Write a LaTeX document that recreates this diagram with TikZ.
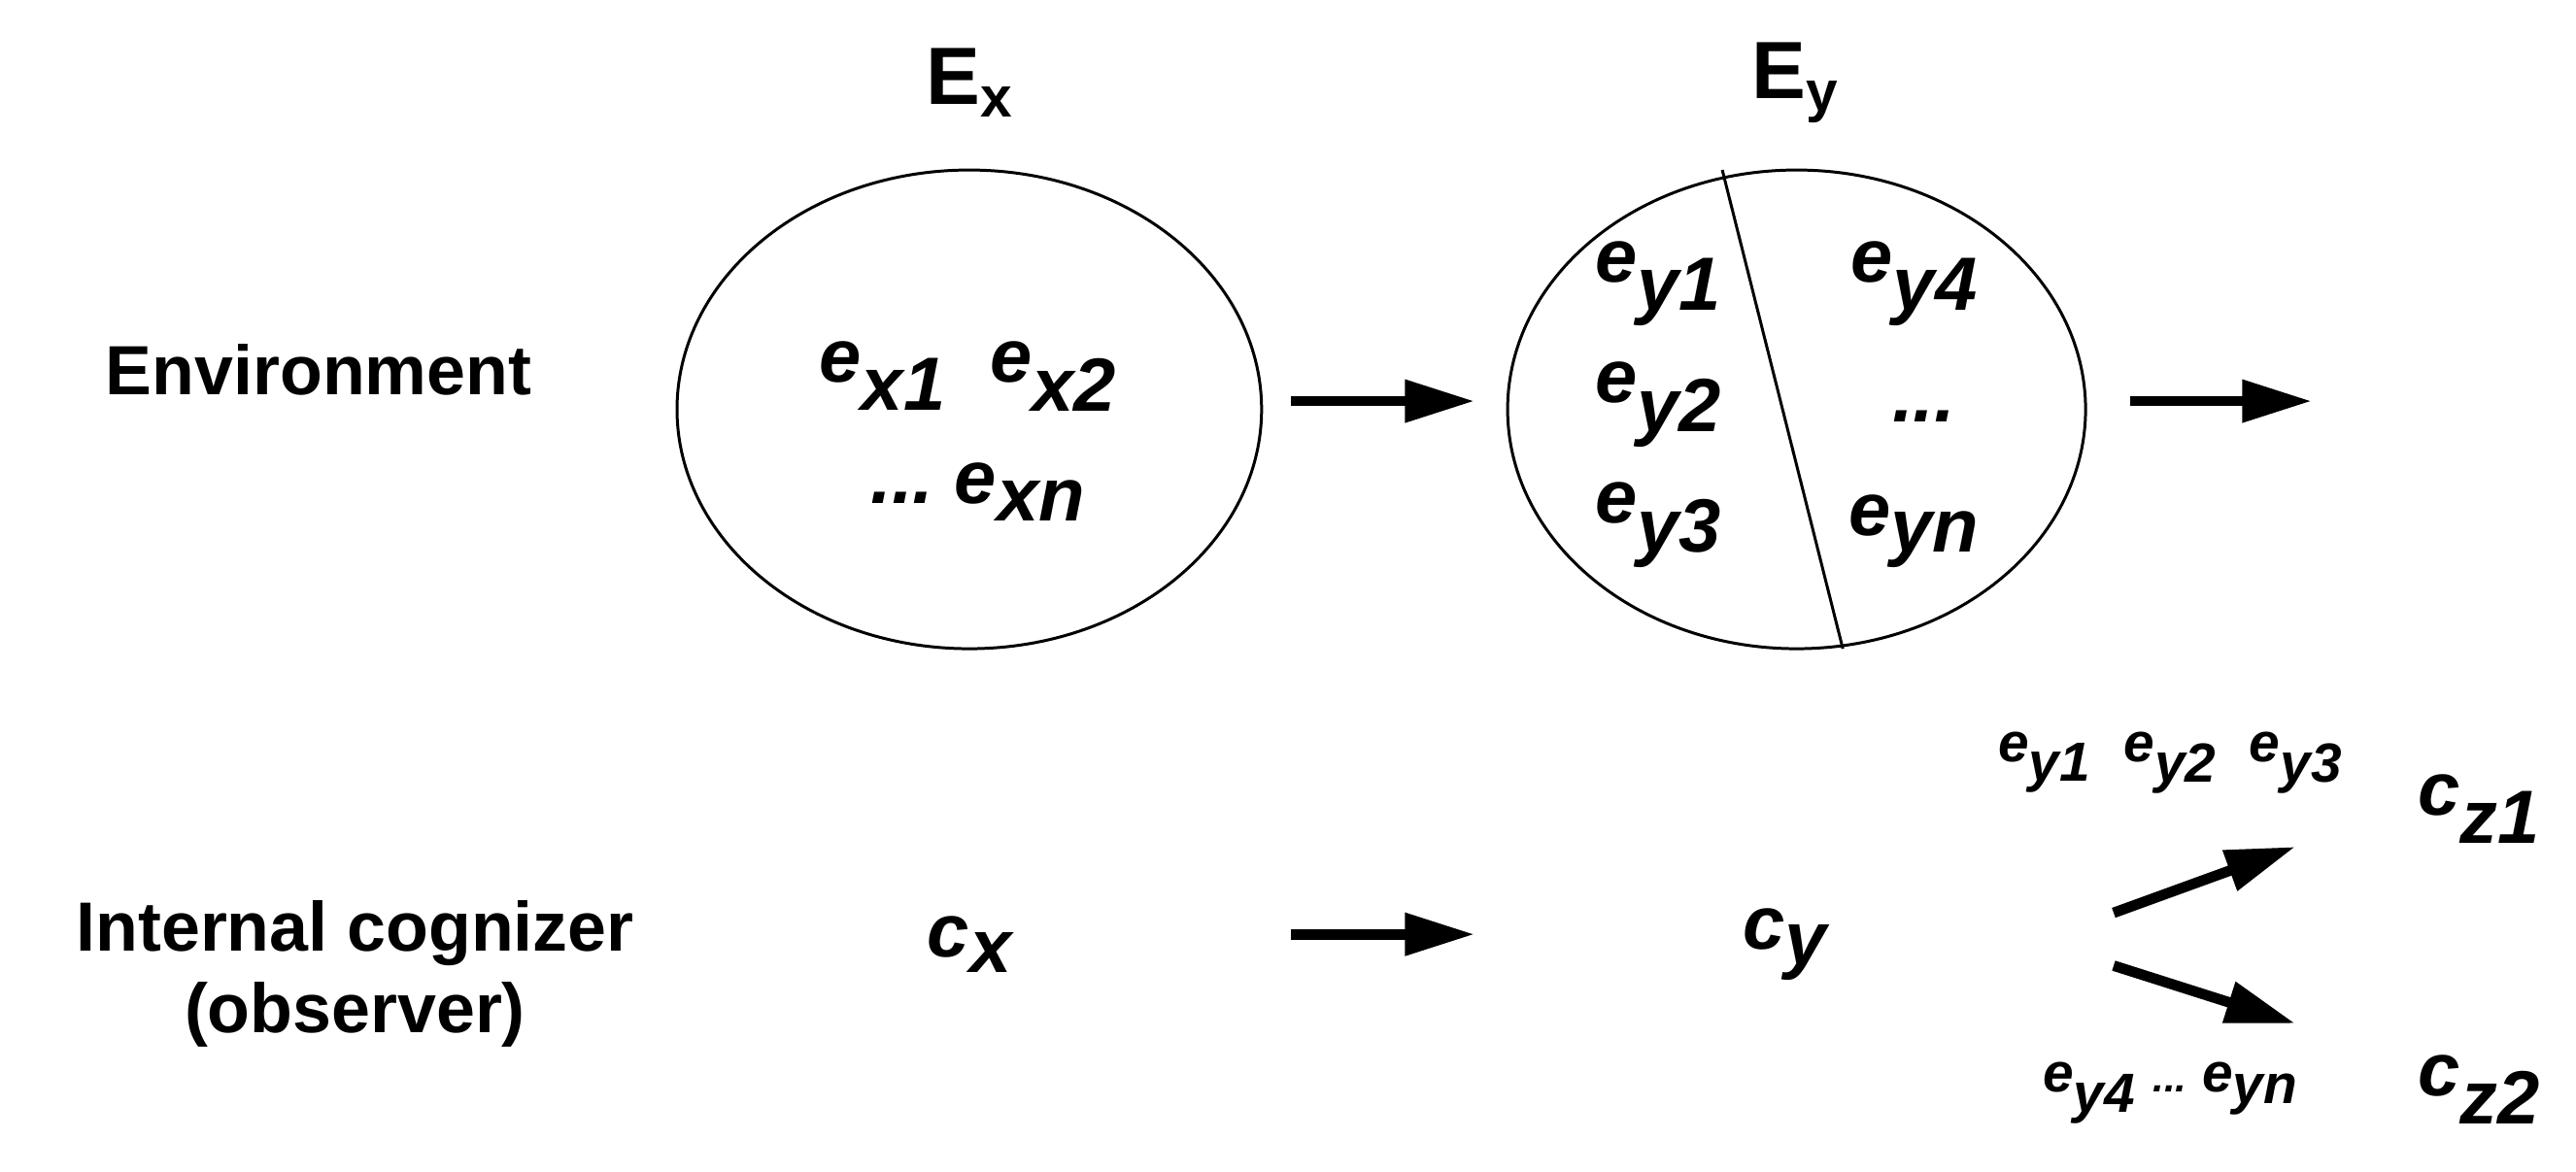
\documentclass[tikz,border=0pt]{standalone}
\usepackage{fontspec}
\setmainfont{Liberation Sans}
\usetikzlibrary{arrows.meta}
\begin{document}
\begin{tikzpicture}[x=0.01cm,y=-0.01cm,
  lbl/.style={font=\bfseries\fontsize{12}{14}\selectfont,align=center},
  big/.style={font=\bfseries\fontsize{14}{16}\selectfont},
  ee/.style={font=\bfseries\itshape\fontsize{13}{15}\selectfont},
  se/.style={font=\bfseries\itshape\fontsize{9.5}{11}\selectfont},
  ell/.style={draw,line width=0.5pt},
  arr/.style={line width=1.8pt,-{Triangle[length=12pt,width=7pt]}}]
\useasboundingbox (0,0) rectangle (1560,710);
\node[big] (Ex) at (588,50) {E$_{\mathbf{x}}$};
\node[big] (Ey) at (1088,50) {E$_{\mathbf{y}}$};
\draw[ell] (587,248) ellipse [x radius=177,y radius=145];
\draw[ell] (1088,248) ellipse [x radius=175,y radius=145];
\coordinate (d1) at (1043,103); \coordinate (d2) at (1116,393);
\draw[line width=0.5pt] (d1) -- (d2);
\node[lbl] (env) at (193,224) {Environment};
\node[lbl] (cog) at (215,590) {Internal cognizer\\(observer)};
\node[ee] (ex12) at (587,228) {e$_{\textit{x1}}$\ \ e$_{\textit{x2}}$};
\node[ee] (exn) at (593,298) {...\ e$_{\textit{xn}}$};
\node[ee] (ey1) at (1005,172) {e$_{\textit{y1}}$};
\node[ee] (ey2) at (1005,245) {e$_{\textit{y2}}$};
\node[ee] (ey3) at (1005,318) {e$_{\textit{y3}}$};
\node[ee] (ey4) at (1160,172) {e$_{\textit{y4}}$};
\node[ee] (eyd) at (1165,252) {...};
\node[ee] (eyn) at (1160,322) {e$_{\textit{yn}}$};
\coordinate (a1s) at (782,243); \coordinate (a1e) at (893,243);
\coordinate (a2s) at (1290,243); \coordinate (a2e) at (1400,243);
\coordinate (a3s) at (782,566); \coordinate (a3e) at (893,566);
\coordinate (a4s) at (1280,553); \coordinate (a4e) at (1390,513);
\coordinate (a5s) at (1280,585); \coordinate (a5e) at (1390,620);
\draw[arr] (a1s) -- (a1e);
\draw[arr] (a2s) -- (a2e);
\draw[arr] (a3s) -- (a3e);
\draw[arr] (a4s) -- (a4e);
\draw[arr] (a5s) -- (a5e);
\node[ee] (cx) at (588,572) {c$_{\textit{x}}$};
\node[ee] (cy) at (1082,572) {c$_{\textit{y}}$};
\node[se] (top) at (1315,462) {e$_{\textit{y1}}$\ \ e$_{\textit{y2}}$\ \ e$_{\textit{y3}}$};
\node[se] (bot) at (1315,662) {e$_{\textit{y4}}$\ {\fontsize{7}{8}\selectfont...}\ e$_{\textit{yn}}$};
\node[ee] (cz1) at (1502,490) {c$_{\textit{z1}}$};
\node[ee] (cz2) at (1502,660) {c$_{\textit{z2}}$};
\end{tikzpicture}
\end{document}
